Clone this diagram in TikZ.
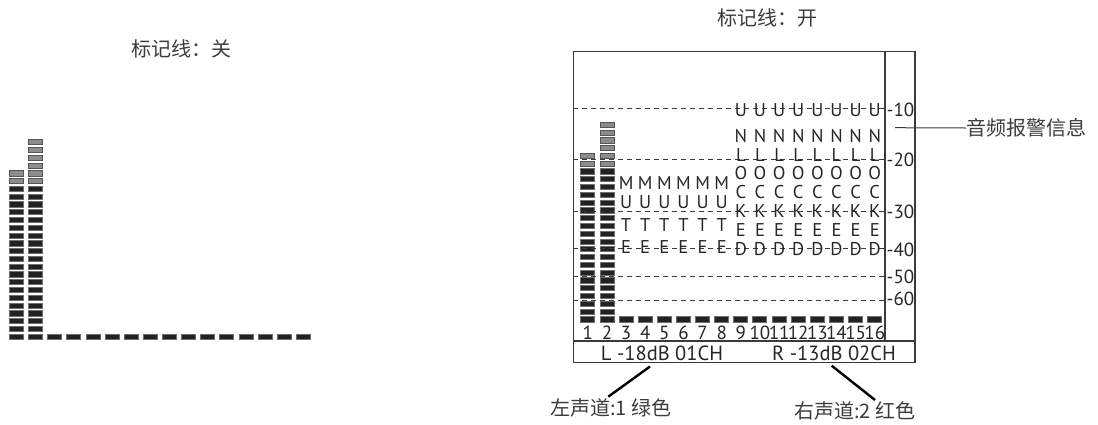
\documentclass[tikz,border=0pt]{standalone}
\usepackage{fontspec}
\setmainfont{PT Sans}
\newfontfamily\cjk{Noto Sans CJK SC}
\definecolor{ink}{HTML}{262626}
\definecolor{cjkink}{HTML}{3C3C3C}
\definecolor{segdark}{HTML}{222222}
\definecolor{segedge}{HTML}{6E6E6E}
\definecolor{seglight}{HTML}{8C8C8C}
\definecolor{seglightedge}{HTML}{555555}
\definecolor{framec}{HTML}{3A3A3A}
\newcommand{\mymeter}{%
  \foreach \r in {0,...,19} {
    \fill[blackseg] (-7,{-\r*7.78-2.6}) rectangle (7,{-\r*7.78+2.6});
    \fill[blackseg] ({19.12-7},{-\r*7.78-2.6}) rectangle ({19.12+7},{-\r*7.78+2.6});
  }
  \foreach \r in {20,21} {
    \fill[grayseg] (-7,{-\r*7.78-2.6}) rectangle (7,{-\r*7.78+2.6});
  }
  \foreach \r in {20,...,25} {
    \fill[grayseg] ({19.12-7},{-\r*7.78-2.6}) rectangle ({19.12+7},{-\r*7.78+2.6});
  }
  \foreach \c in {2,...,15} {
    \fill[blackseg] ({\c*19.12-7},-2.6) rectangle ({\c*19.12+7},2.6);
  }
}
\begin{document}
\begin{tikzpicture}[x=1pt,y=-1pt,
  blackseg/.style={fill=segdark,draw=segedge,line width=0.8pt},
  grayseg/.style={fill=seglight,draw=seglightedge,line width=0.8pt},
  frameline/.style={draw=framec,line width=1.3pt},
  dline/.style={draw=framec,line width=0.8pt,dash pattern=on 5pt off 4pt},
  lett/.style={font=\fontsize{18.5}{18.5}\selectfont,text=ink,inner sep=0pt},
  numl/.style={font=\fontsize{19}{19}\selectfont,text=ink,inner sep=0pt},
  scl/.style={font=\fontsize{19}{19}\selectfont,text=ink,inner sep=0pt,anchor=west},
  botl/.style={font=\fontsize{20.5}{20.5}\selectfont,text=ink,inner sep=0pt},
  cjkl/.style={font=\cjk\fontsize{20}{20}\selectfont,text=cjkink,inner sep=0pt,anchor=west},
  callout/.style={draw=black,line width=2.4pt},
  thinline/.style={draw=framec,line width=1pt}]
\useasboundingbox (0,0) rectangle (1098,424);

% titles
\node[cjkl] (t1) at (131,49) {标记线：关};
\node[cjkl] (t2) at (717,18) {标记线：开};

% left meter
\begin{scope}[shift={(16.5,336.7)}]
  \mymeter
\end{scope}

% right panel meter
\begin{scope}[shift={(587.8,319.3)}]
  \mymeter
\end{scope}

% dashed level lines
\foreach \yy in {108.3,159.3,211.6,248.5,276.7,300} {
  \draw[dline] (573.3,\yy) -- (885,\yy);
}

% frame
\draw[frameline] (573.3,51.7) rectangle (915,362.7);
\draw[frameline] (885,51.7) -- (885,341);
\draw[frameline] (573.3,341) -- (915,341);

% scale labels
\node[scl] (s10) at (886.5,110) {-10};
\node[scl] (s20) at (886.5,160) {-20};
\node[scl] (s30) at (886.5,211.5) {-30};
\node[scl] (s40) at (886.5,250) {-40};
\node[scl] (s50) at (886.5,276.5) {-50};
\node[scl] (s60) at (886.5,299.3) {-60};

% UNLOCKED letters
\foreach \c in {9,...,16} {
  \foreach \l/\yy [count=\i] in {U/110,N/136.5,L/155,O/173.5,C/192,K/211.5,E/230,D/249} {
    \node[lett] (ul\c-\i) at ({587.8+19.13*(\c-1)},\yy) {\l};
  }
}
% MUTE letters
\foreach \c in {3,...,8} {
  \foreach \l/\yy [count=\i] in {M/183.3,U/202,T/225,E/246.7} {
    \node[lett] (mu\c-\i) at ({587.8+19.13*(\c-1)},\yy) {\l};
  }
}

% channel numbers
\foreach \c in {1,...,16} {
  \node[numl] (n\c) at ({587.8+19.13*(\c-1)},333) {\c};
}

% bottom status
\node[botl] (lch) at (662,353) {L -18dB 01CH};
\node[botl] (rch) at (834,353) {R -13dB 02CH};

% alarm callout
\coordinate (alarmstart) at (895,127.7);
\node[cjkl] (alarm) at (966,128) {音频报警信息};
\draw[thinline] (alarmstart) -- (alarm.west);

% channel callouts
\coordinate (la) at (650,366.5);
\coordinate (lb) at (608.3,396.7);
\node[cjkl] (ltext) at (550,408.3) {左声道:1 绿色};
\draw[callout] (la) -- (lb);
\coordinate (ra) at (831.7,365.7);
\coordinate (rb) at (875,400);
\node[cjkl] (rtext) at (794,411) {右声道:2 红色};
\draw[callout] (ra) -- (rb);
\end{tikzpicture}
\end{document}
